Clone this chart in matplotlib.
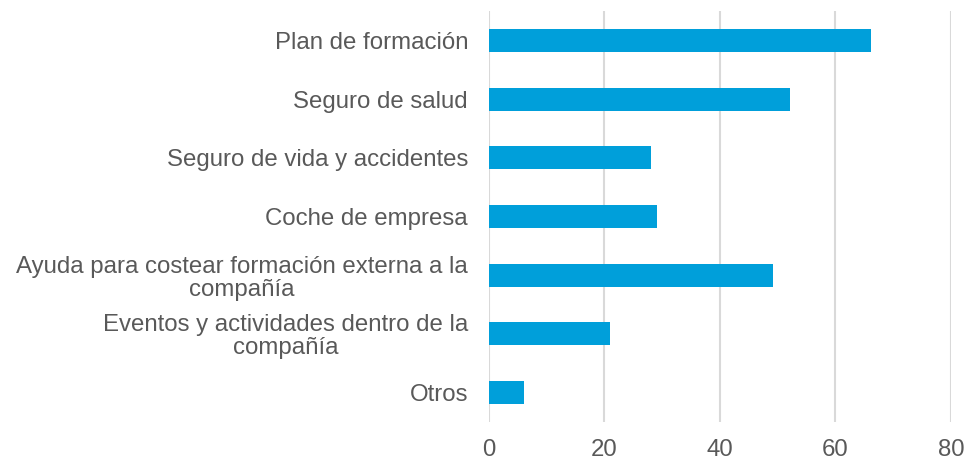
import matplotlib.pyplot as plt

categories = [
    "Plan de formación",
    "Seguro de salud",
    "Seguro de vida y accidentes",
    "Coche de empresa",
    "Ayuda para costear formación externa a la\ncompañía",
    "Eventos y actividades dentro de la\ncompañía",
    "Otros",
]
values = [66.2, 52.1, 28.1, 29.1, 49.2, 21.0, 6.0]
xticks = [0, 20, 40, 60, 80]

plt.rcParams['font.family'] = ['Liberation Sans', 'DejaVu Sans']

fig = plt.figure(figsize=(9.69, 4.61), dpi=100)
ax = fig.add_axes([0.5046, 0.0846, 0.4768, 0.8914])

pos = list(range(len(categories)))
ax.barh(pos, values, height=0.39, color="#009FDA", zorder=3)

ax.set_xlim(0, 80)
ax.set_ylim(len(categories) - 0.5, -0.5)
ax.set_xticks(xticks)
ax.set_yticks(pos)
ax.set_yticklabels(categories, ha="right", multialignment="center", linespacing=1.05)

ax.tick_params(axis="y", length=0, pad=15, labelsize=17.3, labelcolor="#595959")
ax.tick_params(axis="x", length=0, pad=12, labelsize=17.3, labelcolor="#595959")

ax.grid(axis="x", color="#D9D9D9", linewidth=1.5, zorder=0)
for s in ax.spines.values():
    s.set_visible(False)

fig.savefig("out.png", dpi=100)
